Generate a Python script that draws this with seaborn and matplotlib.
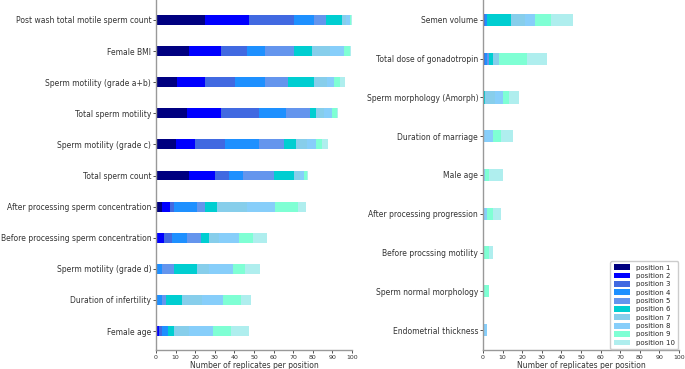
import matplotlib
matplotlib.use("Agg")
import matplotlib.pyplot as plt
from matplotlib.patches import Patch
import numpy as np
import pandas as pd
import seaborn as sns

positions = [f"position {i}" for i in range(1, 11)]
colors = ["navy", "blue", "royalblue", "dodgerblue", "cornflowerblue",
          "darkturquoise", "skyblue", "lightskyblue", "aquamarine", "paleturquoise"]

left_features = [
    "Post wash total motile sperm count",
    "Female BMI",
    "Sperm motility (grade a+b)",
    "Total sperm motility",
    "Sperm motility (grade c)",
    "Total sperm count",
    "After processing sperm concentration",
    "Before processing sperm concentration",
    "Sperm motility (grade d)",
    "Duration of infertility",
    "Female age",
]
# counts per position 1..10 for each feature
left_values = [
    [25, 22.5, 23, 10.2, 6, 8, 2.1, 2, 0.7, 0.5],
    [17, 16.2, 13.3, 9, 15, 9.2, 9.3, 6.9, 3.2, 0.6],
    [10.9, 14.1, 15.3, 15.2, 11.9, 13.3, 6.3, 3.6, 3.1, 2.9],
    [16, 17.2, 19.3, 13.9, 12.3, 3.1, 4.1, 3.9, 2.8, 0.2],
    [10, 9.9, 15.4, 17.2, 12.9, 6.2, 5.2, 4.8, 2.9, 3.1],
    [17, 13.2, 7.1, 7.2, 15.8, 10.2, 3, 2.1, 1.4, 0.3],
    [2.9, 4.1, 2, 12, 4, 6.2, 15.1, 14.2, 12.1, 4.1],
    [0, 3.9, 4.1, 8, 7, 4.1, 5.1, 10, 7.2, 7],
    [0, 0, 0.5, 2.6, 5.9, 12, 6.1, 12.3, 5.9, 8],
    [0, 0, 0.5, 2.4, 2, 8.2, 10.2, 10.9, 9.2, 5],
    [0.7, 1, 1.2, 3.1, 0, 3, 7.9, 12.2, 9.2, 9.1],
]

right_features = [
    "Semen volume",
    "Total dose of gonadotropin",
    "Sperm morphology (Amorph)",
    "Duration of marriage",
    "Male age",
    "After processing progression",
    "Before procssing motility",
    "Sperm normal morphology",
    "Endometrial thickness",
]
right_values = [
    [0, 0, 1, 1.2, 0, 12.1, 6.9, 5.2, 8.3, 11.2],
    [0, 0, 1, 1, 1.1, 2.1, 3.1, 0, 14.1, 10.2],
    [0, 0, 0, 0, 0, 1, 5.2, 4.1, 3.1, 4.9],
    [0, 0, 0, 0, 0, 0, 0, 5.2, 4.1, 6],
    [0, 0, 0, 0, 0, 0, 0, 1, 2.1, 7.1],
    [0, 0, 0, 0, 0, 0, 0, 2.1, 3.1, 4.1],
    [0, 0, 0, 0, 0, 0, 0, 0, 3.1, 2.1],
    [0, 0, 0, 0, 0, 0, 0, 0, 3, 0],
    [0, 0, 0, 0, 0, 0, 0, 2, 0, 0],
]

x_ticks = list(range(0, 101, 10))

sns.set_style("ticks")
plt.rcParams["font.family"] = ["DejaVu Sans"]

fig = plt.figure(figsize=(6.85, 3.69), dpi=100)
ax_l = fig.add_axes([156 / 685, 19 / 369, 196 / 685, 350 / 369])
ax_r = fig.add_axes([483 / 685, 19 / 369, 196 / 685, 350 / 369])


def draw(ax, features, values, ylim):
    df = pd.DataFrame(values, columns=positions)
    df.insert(0, "feature", features)
    cum = df[positions].cumsum(axis=1)
    for k in range(len(positions) - 1, -1, -1):
        d = pd.DataFrame({"feature": features, "count": cum[positions[k]]})
        sns.barplot(data=d, x="count", y="feature", order=features, orient="h",
                    color=colors[k], saturation=1, width=0.32, ax=ax,
                    linewidth=0, errorbar=None)
    ax.set_xlim(0, 100)
    ax.set_xticks(x_ticks)
    ax.set_ylim(*ylim)
    ax.set_ylabel("")
    ax.set_xlabel("Number of replicates per position", fontsize=5.5, labelpad=1, color="#333333")
    ax.tick_params(axis="x", labelsize=4.5, length=2, width=0.6, pad=1.5, colors="#333333")
    ax.tick_params(axis="y", labelsize=5.5, length=2, width=0.6, pad=1.5, colors="#333333")
    sns.despine(ax=ax)
    for s in ["left", "bottom"]:
        ax.spines[s].set_color("#999999")
        ax.spines[s].set_linewidth(1.0)


draw(ax_l, left_features, left_values, (10.61, -0.643))
draw(ax_r, right_features, right_values, (8.516, -0.516))

handles = [Patch(facecolor=c, edgecolor="none", label=p) for c, p in zip(colors, positions)]
ax_r.legend(handles=handles, loc="lower right", fontsize=5, frameon=True,
            borderaxespad=0.15, handlelength=2.4, handleheight=0.9, labelspacing=0.3,
            borderpad=0.45, handletextpad=0.8, edgecolor="#cccccc", framealpha=1)

fig.savefig("out.png", dpi=100)
